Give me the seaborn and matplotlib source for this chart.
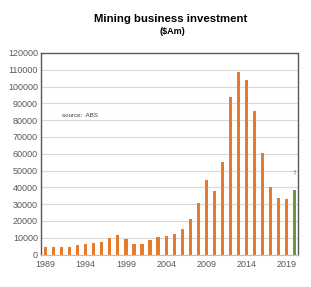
import matplotlib
matplotlib.use("Agg")
import matplotlib.pyplot as plt
import seaborn as sns
import pandas as pd

years = list(range(1989, 2021))
values = [4500, 4500, 4500, 4500, 5500, 6000, 7000, 7500, 10000, 11800,
          9500, 6500, 6500, 8500, 10300, 11000, 12000, 15000, 21400, 30700,
          44600, 37700, 55000, 93600, 108500, 104000, 85500, 60300, 40300,
          33700, 33300, 38300]
kind = ["actual"] * 31 + ["forecast"]
tick_years = [1989, 1994, 1999, 2004, 2009, 2014, 2019]

df = pd.DataFrame({"year": [str(y) for y in years], "value": values, "kind": kind})

sns.set_style("white")
plt.rcParams["font.family"] = ["Liberation Sans", "DejaVu Sans"]

fig = plt.figure(figsize=(3.11, 2.87), dpi=100)
ax = fig.add_axes([40.7 / 311, 1 - 254.5 / 287, (298 - 40.7) / 311, (254.5 - 53) / 287])

sns.barplot(data=df, x="year", y="value", hue="kind",
            palette={"actual": "#E87A2C", "forecast": "#5DA03A"},
            width=0.4, dodge=False, legend=False, ax=ax, saturation=1,
            linewidth=0, edgecolor="none")

ax.set_ylim(0, 120000)
ax.set_xlim(-0.6, 31.4)
ax.set_yticks(range(0, 120001, 10000))
ax.set_yticklabels([str(v) for v in range(0, 120001, 10000)])
ax.set_xticks([years.index(y) for y in tick_years])
ax.set_xticklabels([str(y) for y in tick_years])
ax.tick_params(axis="both", labelsize=6.5, colors="#595959", length=0, pad=2)
ax.tick_params(axis="x", pad=4)
ax.grid(axis="y", color="#D9D9D9", linewidth=0.8)
ax.set_axisbelow(True)
ax.set_xlabel("")
ax.set_ylabel("")
for s in ["left", "top", "right"]:
    ax.spines[s].set_color("#595959")
    ax.spines[s].set_linewidth(1.0)
ax.spines["bottom"].set_color("#BFBFBF")
ax.spines["bottom"].set_linewidth(0.8)

ax.text(31, values[-1] + 8000, "f", ha="center", va="bottom", fontsize=5, color="#7F7F7F")
ax.text(2.0, 82000, "source:  ABS", fontsize=4.5, color="#404040")

fig.text(0.55, 1 - 19 / 287, "Mining business investment", ha="center", va="center",
         fontsize=8.2, fontweight="bold", color="#000000")
fig.text(0.555, 1 - 32 / 287, "($Am)", ha="center", va="center",
         fontsize=6.5, fontweight="bold", color="#000000")

fig.savefig("out.png", dpi=100)
